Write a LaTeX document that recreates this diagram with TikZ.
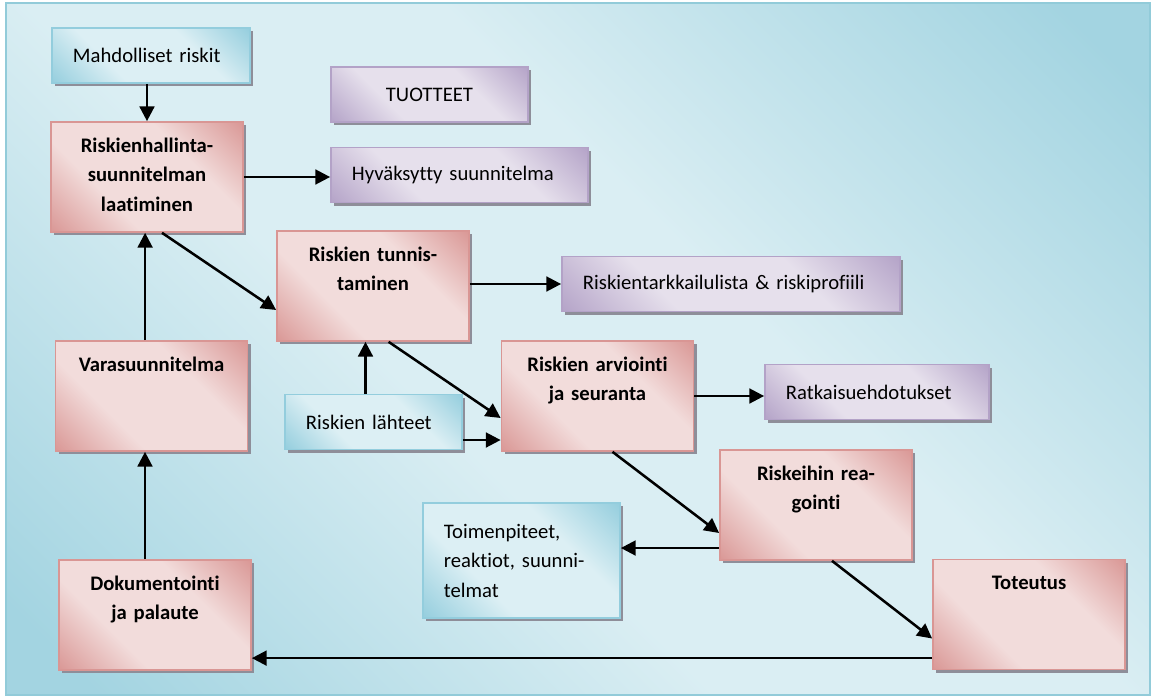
\documentclass[tikz,border=0pt]{standalone}
\usepackage{fontspec}
\setmainfont{Carlito}[Ligatures=NoCommon]
\usetikzlibrary{arrows.meta,shadows}

\definecolor{rlight}{HTML}{F2DCDB}
\definecolor{rdark}{HTML}{D99694}
\definecolor{blight}{HTML}{DCEFF4}
\definecolor{bdark}{HTML}{93CDDD}
\definecolor{plight}{HTML}{E6E0EC}
\definecolor{pdark}{HTML}{B3A2C7}
\definecolor{bglight}{HTML}{DAEEF3}
\definecolor{bgdark}{HTML}{A3D4E1}
\definecolor{framecol}{HTML}{92CBD9}
\definecolor{shadowcol}{HTML}{8E8E99}

\pgfdeclarehorizontalshading{redshade}{100bp}{color(0bp)=(rdark); color(14bp)=(rdark); color(25bp)=(rdark!50!rlight); color(36bp)=(rlight); color(64bp)=(rlight); color(75bp)=(rdark!50!rlight); color(86bp)=(rdark); color(100bp)=(rdark)}
\pgfdeclarehorizontalshading{blueshade}{100bp}{color(0bp)=(bdark); color(14bp)=(bdark); color(25bp)=(bdark!50!blight); color(36bp)=(blight); color(64bp)=(blight); color(75bp)=(bdark!50!blight); color(86bp)=(bdark); color(100bp)=(bdark)}
\pgfdeclarehorizontalshading{purpleshade}{100bp}{color(0bp)=(pdark); color(14bp)=(pdark); color(25bp)=(pdark!50!plight); color(36bp)=(plight); color(64bp)=(plight); color(75bp)=(pdark!50!plight); color(86bp)=(pdark); color(100bp)=(pdark)}
\pgfdeclarehorizontalshading{bgshade}{100bp}{color(0bp)=(bgdark); color(18bp)=(bgdark); color(42bp)=(bglight); color(58bp)=(bglight); color(82bp)=(bgdark); color(100bp)=(bgdark)}

\tikzset{
  box/.style={rectangle, shade, shading angle=45, line width=1.2pt,
    general shadow={fill=shadowcol, shadow xshift=2.2pt, shadow yshift=-2.2pt},
    font=\fontsize{14.7}{21}\selectfont},
  redbox/.style={box, shading=redshade, draw=rdark, text width=4.4cm, align=center,
    inner xsep=0.2cm, inner ysep=0pt, text height=21.5pt, text depth=56.7pt,
    font=\fontsize{14.7}{21}\selectfont\bfseries},
  bluebox/.style={box, shading=blueshade, draw=bdark, align=left, inner xsep=0.525cm,
    minimum height=1.375cm},
  purplebox/.style={box, shading=purpleshade, draw=pdark, align=left, inner xsep=0.525cm,
    minimum height=1.375cm},
  arr/.style={-{Triangle[length=10.5pt,width=10.5pt]}, line width=1.8pt}
}

\begin{document}
\begin{tikzpicture}[x=0.025cm, y=-0.025cm]
\useasboundingbox (0,0) rectangle (1157,697);
\draw[draw=framecol, line width=2pt, shade, shading=bgshade, shading angle=45] (6,3) rectangle (1150,695);

\node[bluebox, text width=3.9cm] (riskit) at (151,55.5) {Mahdolliset riskit};
\node[purplebox, text width=3.875cm, align=center] (tuotteet) at (429.5,94.5) {TUOTTEET};
\node[purplebox, text width=5.375cm] (hyvaksytty) at (459.5,175) {Hyväksytty suunnitelma};
\node[purplebox, text width=7.4cm] (tarkkailu) at (731,284) {Riskientarkkailulista \& riskiprofiili};
\node[bluebox, text width=3.375cm] (lahteet) at (373.5,422) {Riskien lähteet};
\node[purplebox, text width=4.55cm] (ratkaisu) at (877,392) {Ratkaisuehdotukset};
\node[bluebox, text width=3.875cm, minimum height=2.875cm] (toimenpiteet) at (521.5,560.5) {Toimenpiteet,\\reaktiot, suunni-\\telmat};

\node[redbox] (laatiminen) at (147,177) {Riskienhallinta-\\suunnitelman\\laatiminen};
\node[redbox] (tunnistus) at (373,286) {Riskien tunnis-\\taminen};
\node[redbox] (arviointi) at (597.5,396) {Riskien arviointi\\ja seuranta};
\node[redbox] (vara) at (151.5,396) {Varasuunnitelma};
\node[redbox] (reagointi) at (816,505) {Riskeihin rea-\\gointi};
\node[redbox] (toteutus) at (1029,614.5) {Toteutus};
\node[redbox] (dokumentointi) at (155,615) {Dokumentointi\\ja palaute};

\coordinate (lt) at ([xshift=-0.2cm]lahteet.north);
\coordinate (la) at ([yshift=-0.45cm]lahteet.east);
\coordinate (rt) at ([yshift=-1.075cm]reagointi.west);
\coordinate (td) at ([yshift=-1.09cm]toteutus.west);
\coordinate (dv) at ([xshift=-0.25cm]dokumentointi.north);
\coordinate (vl) at ([xshift=-0.16cm]vara.north);

\draw[arr] (laatiminen.north |- riskit.south) -- (laatiminen.north);
\draw[arr] (laatiminen.east) -- (laatiminen.east -| hyvaksytty.west);
\draw[arr] ([xshift=0.375cm]laatiminen.south) -- ([yshift=-0.6cm]tunnistus.west);
\draw[arr] (tunnistus.east |- tarkkailu.west) -- (tarkkailu.west);
\draw[arr] ([xshift=0.39cm]tunnistus.south) -- ([yshift=-0.55cm]arviointi.west);
\draw[arr] (lt) -- (lt |- tunnistus.south);
\draw[arr] (la) -- (la -| arviointi.west);
\draw[arr] (arviointi.east) -- (arviointi.east -| ratkaisu.west);
\draw[arr] ([xshift=0.375cm]arviointi.south) -- ([yshift=-0.7cm]reagointi.west);
\draw[arr] (rt) -- (rt -| toimenpiteet.east);
\draw[arr] ([xshift=0.4cm]reagointi.south) -- ([yshift=-0.6cm]toteutus.west);
\draw[arr] (td) -- (td -| dokumentointi.east);
\draw[arr] (dv) -- (dv |- vara.south);
\draw[arr] (vl) -- (vl |- laatiminen.south);
\end{tikzpicture}
\end{document}
